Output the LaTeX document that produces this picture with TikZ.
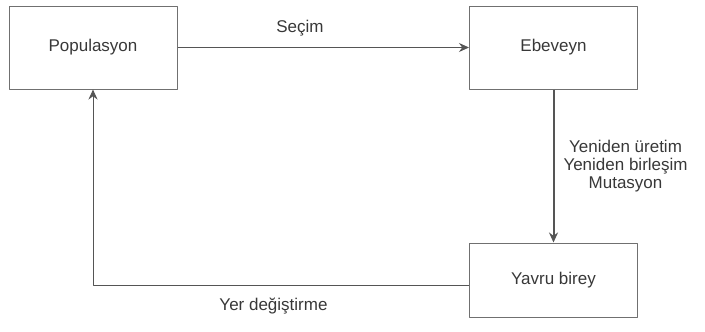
\documentclass[tikz,border=0pt]{standalone}
\usepackage{fontspec}
\setmainfont{Liberation Sans}
\usetikzlibrary{arrows.meta}
\definecolor{kenar}{HTML}{707070}
\definecolor{cizgi}{HTML}{555555}
\definecolor{yazi}{HTML}{383838}
\begin{document}
\begin{tikzpicture}[x=1pt, y=-1pt, line join=round, >={Stealth[length=10pt,width=9pt]},
	every node/.style={font=\fontsize{17}{18.3}\selectfont, text=yazi},
	kutu/.style={draw=kenar, line width=1pt, minimum width=168pt, minimum height=83pt, inner sep=0pt},
	ok/.style={draw=cizgi, line width=1pt, ->},
	etiket/.style={inner sep=0pt, align=center}]
	\useasboundingbox (0,0) rectangle (705,332);
	% kutular
	\node[kutu] (pop) at (93,47.5) {Populasyon};
	\node[kutu] (ebe) at (553.5,47.5) {Ebeveyn};
	\node[kutu, minimum height=74pt] (yav) at (553.5,280) {Yavru birey};
	% oklar
	\draw[ok] (pop) -- node[etiket, pos=.42, above=11pt] {Seçim} (ebe);
	\draw[ok, line width=2pt] (ebe) -- node[etiket, right=9pt] {Yeniden üretim\\Yeniden birleşim\\Mutasyon} (yav);
	\draw[ok] ([yshift=-5pt]yav.west) -| node[etiket, pos=.26, below=12pt] {Yer değiştirme} (pop);
\end{tikzpicture}
\end{document}
